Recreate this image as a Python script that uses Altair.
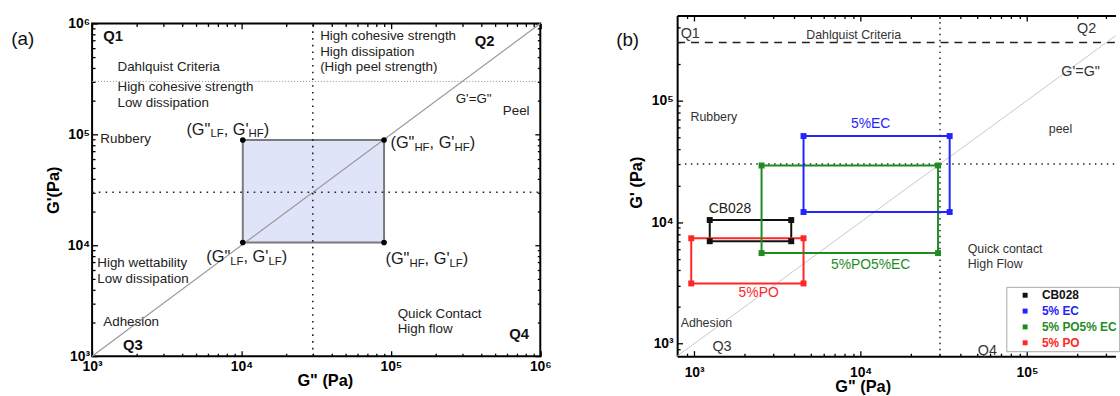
import altair as alt
import pandas as pd

FONT = "Liberation Sans"

# ---------------- panel (a) values ----------------
a_major = [1e3, 1e4, 1e5, 1e6]
a_minor = [2e3, 3e3, 4e3, 5e3, 6e3, 7e3, 8e3, 9e3,
           2e4, 3e4, 4e4, 5e4, 6e4, 7e4, 8e4, 9e4,
           2e5, 3e5, 4e5, 5e5, 6e5, 7e5, 8e5, 9e5]
a_gpp = [1.02e4, 9.0e4]      # G'' LF, HF
a_gp = [1.06e4, 8.9e4]       # G'  LF, HF
a_diag = [1e3, 1e6]
a_cut = 3e4
a_dahl = 3e5

a_body_text = ["Dahlquist Criteria", "High cohesive strength", "Low dissipation", "Rubbery",
               "High wettability", "Low dissipation", "Adhesion",
               "High cohesive strength", "High dissipation", "(High peel strength)",
               "Quick Contact", "High flow"]
a_body_x = [1479, 1479, 1479, 1135, 1084, 1084, 1189, 3.36e4, 3.36e4, 3.36e4, 1.11e5, 1.11e5]
a_body_y = [4.04e5, 2.67e5, 1.92e5, 8.98e4, 6.84e3, 4.92e3, 2.03e3, 7.66e5, 5.5e5, 4.04e5, 2.39e3, 1.75e3]
a_mid_text = ["G'=G\"", "Peel"]
a_mid_x = [3.58e5, 6.9e5]
a_mid_y = [2.09e5, 1.63e5]
a_q_text = ["Q1", "Q2", "Q3", "Q4"]
a_q_x = [1189, 3.64e5, 1611, 6.2e5]
a_q_y = [7.66e5, 6.9e5, 1.26e3, 1.58e3]
a_corner_sub1 = ["LF", "HF", "LF", "HF"]
a_corner_sub2 = ["HF", "HF", "LF", "LF"]
a_corner_x = [4.28e3, 9.93e4, 5.81e3, 9.2e4]
a_corner_y = [1.1e5, 8.26e4, 7.75e3, 7.43e3]

# ---------------- panel (b) values ----------------
b_major = [1e3, 1e4, 1e5]
b_minor = [9e2, 2e3, 3e3, 4e3, 5e3, 6e3, 7e3, 8e3, 9e3,
           2e4, 3e4, 4e4, 5e4, 6e4, 7e4, 8e4, 9e4, 2e5, 3e5, 4e5]
b_xdom = [790, 3.4e5]
b_ydom = [790, 5e5]
b_cut = 3e4
b_dahl = 3e5
series = ["CB028", "5% PO", "5% PO5% EC", "5% EC"]
box_x1 = [1.24e3, 9.6e2, 2.54e3, 4.54e3]
box_x2 = [3.83e3, 4.54e3, 2.92e4, 3.43e4]
box_y1 = [6.96e3, 3.13e3, 5.56e3, 1.21e4]
box_y2 = [1.04e4, 7.36e3, 2.92e4, 5.1e4]
legend_order = ["CB028", "5% EC", "5% PO5% EC", "5% PO"]
legend_colors = ["#111111", "#2424ff", "#1f8c1f", "#ff2626"]

b_left_text = ["Rubbery", "Quick contact", "High Flow", "Adhesion"]
b_left_x = [951, 4.4e4, 4.4e4, 829]
b_left_y = [7.3e4, 6.03e3, 4.55e3, 1.48e3]
b_mid_text = ["Dahlquist Criteria", "peel"]
b_mid_x = [9.08e3, 1.59e5]
b_mid_y = [3.46e5, 5.8e4]
b_q_text = ["Q1", "Q2", "G'=G\"", "Q3", "Q4"]
b_q_x = [829, 2.28e5, 2.1e5, 1.47e3, 5.78e4]
b_q_y = [3.52e5, 3.87e5, 1.7e5, 942, 874]
b_q_align = ["left", "center", "center", "center", "center"]
b_series_text = ["CB028", "5%EC", "5%PO5%EC", "5%PO"]
b_series_x = [1.64e3, 1.15e4, 1.15e4, 2.44e3]
b_series_y = [1.28e4, 6.4e4, 4.47e3, 2.6e3]
b_series_color = ["#222222", "#2424ff", "#1f8c1f", "#ff2626"]

# ---------------- helpers ----------------
SUP_ARR = "['\u2070','\u00b9','\u00b2','\u00b3','\u2074','\u2075','\u2076']"
IS_MAJOR = "abs(log(datum.value)/LN10 - round(log(datum.value)/LN10)) < 0.001"
MAJ, MIN = 5.5, 3.0
TICK_SIZE = alt.ExprRef(f"{IS_MAJOR} ? {-MAJ} : {-MIN}")   # negative -> inward ticks
dummy = pd.DataFrame({"x": [1e4], "y": [1e4]})


def enc_xy(xs, ys):
    return dict(x=alt.X("x:Q", scale=xs, axis=None), y=alt.Y("y:Q", scale=ys, axis=None))


def axis_layer(xs, ys, xaxis, yaxis):
    return alt.Chart(dummy).mark_point(opacity=0).encode(
        x=alt.X("x:Q", scale=xs, axis=xaxis), y=alt.Y("y:Q", scale=ys, axis=yaxis))


def label_axis(orient, values, title, tx, ty, pad, angle, domain=False):
    return alt.Axis(orient=orient, values=values,
                    labelExpr=f"{IS_MAJOR} ? ('10' + {SUP_ARR}[round(log(datum.value)/LN10)]) : ''",
                    ticks=True, tickColor="black", tickWidth=1.3, tickSize=TICK_SIZE,
                    domain=domain, domainColor="black", domainWidth=2,
                    grid=False, labelFont=FONT, labelFontSize=14,
                    labelFontWeight="bold", labelColor="black", labelPadding=pad + MAJ,
                    labelOverlap=False, labelFlush=False,
                    title=title, titleX=tx, titleY=ty, titleFont=FONT, titleFontSize=16.5,
                    titleFontWeight="bold", titleColor="black", titleAlign="center",
                    titleBaseline="middle", titleAngle=angle)


def tick_axis(orient, values, domain=False):
    return alt.Axis(orient=orient, values=values, labels=False, grid=False, title=None,
                    ticks=True, tickColor="black", tickWidth=1.3, tickSize=TICK_SIZE,
                    domain=domain, domainColor="black", domainWidth=2)


def text_layer(xs, ys, txt, xv, yv, **kw):
    df = pd.DataFrame({"x": xv, "y": yv, "t": txt})
    return alt.Chart(df).mark_text(font=FONT, baseline="middle", **kw).encode(
        text="t:N", **enc_xy(xs, ys))


AW = {"(": 333, ")": 333, "G": 778, '"': 355, "'": 191, ",": 278, " ": 278,
      "L": 556, "F": 611, "H": 722}


def tw(s, size):
    return sum(AW[c] for c in s) * size / 1000.0


def sub_label(xs, ys, x, y, s1, s2, M=16.5, S=11.5, dy=4.5):
    parts = [('(G"', M, 0), (s1, S, dy), (", G'", M, 0), (s2, S, dy), (")", M, 0)]
    layers = []
    dx = 0.0
    df = pd.DataFrame({"x": [x], "y": [y]})
    for txt, size, ddy in parts:
        layers.append(alt.Chart(df).mark_text(
            font=FONT, fontSize=size, align="left", baseline="middle", dx=dx, dy=ddy,
            color="#1a1a1a", text=txt).encode(**enc_xy(xs, ys)))
        dx += tw(txt, size)
    return layers


# ---------------- panel (a) ----------------
AW_, AH_ = 452.6, 336
xa = alt.Scale(type="log", domain=[1e3, 1e6], nice=False)
ya = alt.Scale(type="log", domain=[1e3, 1e6], nice=False)

a_rect = alt.Chart(pd.DataFrame({"x": [a_gpp[0]], "x2": [a_gpp[1]],
                                 "y": [a_gp[0]], "y2": [a_gp[1]]})).mark_rect(
    fill="#dfe4f8", stroke="#7a7a7a", strokeWidth=2).encode(
    x2="x2:Q", y2="y2:Q", **enc_xy(xa, ya))
a_diag_l = alt.Chart(pd.DataFrame({"x": a_diag, "y": a_diag})).mark_line(
    color="#9a9a9a", strokeWidth=1.2).encode(**enc_xy(xa, ya))
a_vline = alt.Chart(pd.DataFrame({"x": [a_cut], "y": [1e3], "y2": [1e6]})).mark_rule(
    color="#222", strokeWidth=1.6, strokeDash=[1.6, 5.2]).encode(y2="y2:Q", **enc_xy(xa, ya))
a_hline = alt.Chart(pd.DataFrame({"x": [1e3], "x2": [1e6], "y": [a_cut]})).mark_rule(
    color="#222", strokeWidth=1.6, strokeDash=[1.6, 5.2]).encode(x2="x2:Q", **enc_xy(xa, ya))
a_dline = alt.Chart(pd.DataFrame({"x": [1e3], "x2": [1e6], "y": [a_dahl]})).mark_rule(
    color="#8a8a8a", strokeWidth=1, strokeDash=[1, 2]).encode(x2="x2:Q", **enc_xy(xa, ya))
a_pts = alt.Chart(pd.DataFrame({"x": [a_gpp[0], a_gpp[1], a_gpp[0], a_gpp[1]],
                                "y": [a_gp[1], a_gp[1], a_gp[0], a_gp[0]]})).mark_circle(
    size=32, color="black", opacity=1).encode(**enc_xy(xa, ya))

a_layers = [a_rect, a_diag_l, a_vline, a_hline, a_dline, a_pts,
            text_layer(xa, ya, a_body_text, a_body_x, a_body_y, fontSize=13.5, align="left", color="#222"),
            text_layer(xa, ya, a_mid_text, a_mid_x, a_mid_y, fontSize=13.5, align="center", color="#222"),
            text_layer(xa, ya, a_q_text, a_q_x, a_q_y, fontSize=15, fontWeight="bold", align="left", color="#111")]
for i in range(4):
    a_layers += sub_label(xa, ya, a_corner_x[i], a_corner_y[i], a_corner_sub1[i], a_corner_sub2[i])
a_layers.append(alt.Chart(dummy).mark_text(font=FONT, fontSize=19, align="left", baseline="middle",
                                           color="#111", text="(a)").encode(
    x=alt.value(-81.7), y=alt.value(16)))
a_layers += [
    axis_layer(xa, ya, label_axis("bottom", a_major + a_minor, "G\" (Pa)", 235, 25, 4, 0),
               label_axis("left", a_major + a_minor, "G'(Pa)", -38.7, 168, 2.5, 270)),
    axis_layer(xa, ya, tick_axis("top", a_major + a_minor), tick_axis("right", a_major + a_minor)),
]
pa = alt.layer(*a_layers).resolve_axis(x="independent", y="independent").properties(
    width=AW_, height=AH_)

spacer = alt.Chart(dummy).mark_point(opacity=0).encode(
    x=alt.value(0), y=alt.value(0)).properties(
    width=AW_, height=7.3, view=alt.ViewBackground(stroke=None))

# ---------------- panel (b) ----------------
xb = alt.Scale(type="log", domain=b_xdom, nice=False)
yb = alt.Scale(type="log", domain=b_ydom, nice=False)
BW_, BH_ = 442.6, 344
cs = alt.Scale(domain=legend_order, range=legend_colors)

b_dline = alt.Chart(pd.DataFrame({"x": [b_xdom[0]], "x2": [b_xdom[1]], "y": [b_dahl]})).mark_rule(
    color="#222", strokeWidth=1.5, strokeDash=[8, 6]).encode(x2="x2:Q", **enc_xy(xb, yb))
b_vline = alt.Chart(pd.DataFrame({"x": [b_cut], "y": [b_ydom[0]], "y2": [b_ydom[1]]})).mark_rule(
    color="#222", strokeWidth=1.5, strokeDash=[1.5, 4.5]).encode(y2="y2:Q", **enc_xy(xb, yb))
b_hline = alt.Chart(pd.DataFrame({"x": [880], "x2": [b_xdom[1]], "y": [b_cut]})).mark_rule(
    color="#222", strokeWidth=1.5, strokeDash=[1.5, 4.5]).encode(x2="x2:Q", **enc_xy(xb, yb))
b_diag = alt.Chart(pd.DataFrame({"x": [790, 3.4e5], "y": [790, 3.4e5]})).mark_line(
    color="#c8c8c8", strokeWidth=1).encode(**enc_xy(xb, yb))
boxes_df = pd.DataFrame({"s": series, "x": box_x1, "x2": box_x2, "y": box_y1, "y2": box_y2})
b_boxes = alt.Chart(boxes_df).mark_rect(filled=False, strokeWidth=2).encode(
    x2="x2:Q", y2="y2:Q", color=alt.Color("s:N", scale=cs), **enc_xy(xb, yb))
corner_rows = []
for s, x1, x2, y1, y2 in zip(series, box_x1, box_x2, box_y1, box_y2):
    corner_rows += [(s, x1, y1), (s, x2, y1), (s, x1, y2), (s, x2, y2)]
corners_df = pd.DataFrame(corner_rows, columns=["s", "x", "y"])
lab_expr = " : ".join(f"datum.value == '{n}' ? '{c}'" for n, c in zip(legend_order, legend_colors)) + " : 'black'"
b_corners = alt.Chart(corners_df).mark_square(size=36, opacity=1).encode(
    color=alt.Color("s:N", scale=cs, sort=legend_order, legend=alt.Legend(
        title=None, orient="none", legendX=332.4, legendY=274, direction="vertical",
        symbolType="square", symbolSize=25, symbolStrokeWidth=0,
        labelFont=FONT, labelFontSize=12, labelFontWeight="bold",
        labelColor=alt.ExprRef(lab_expr),
        padding=2.5, rowPadding=4,
        symbolOffset=10.5, labelOffset=11, strokeColor="#a8a8a8", fillColor="white")),
    **enc_xy(xb, yb))

b_layers = [b_dline, b_vline, b_hline, b_diag, b_boxes, b_corners,
            text_layer(xb, yb, b_left_text, b_left_x, b_left_y, fontSize=12.5, align="left", color="#333"),
            text_layer(xb, yb, b_mid_text, b_mid_x, b_mid_y, fontSize=12.5, align="center", color="#333")]
for t, x, y, al in zip(b_q_text, b_q_x, b_q_y, b_q_align):
    b_layers.append(text_layer(xb, yb, [t], [x], [y], fontSize=14.5, align=al, color="#333"))
for t, x, y, c in zip(b_series_text, b_series_x, b_series_y, b_series_color):
    b_layers.append(text_layer(xb, yb, [t], [x], [y], fontSize=14, align="center", color=c))
b_layers.append(alt.Chart(dummy).mark_text(font=FONT, fontSize=19, align="left", baseline="middle",
                                           color="#111", text="(b)").encode(
    x=alt.value(-61.6), y=alt.value(25)))
b_layers += [
    axis_layer(xb, yb, label_axis("bottom", b_major + b_minor, "G\" (Pa)", 187.4, 31.2, 10, 0, domain=True),
               label_axis("left", b_major + b_minor, "G' (Pa)", -41.3, 168.3, 4, 270, domain=True)),
    axis_layer(xb, yb, tick_axis("top", b_major + b_minor, domain=True), None),
]
pb = alt.layer(*b_layers).resolve_axis(x="independent", y="independent").properties(
    width=BW_, height=BH_, view=alt.ViewBackground(stroke=None))

left = alt.vconcat(spacer, pa, spacing=0, bounds="flush")
chart = alt.hconcat(left, pb, spacing=63.8).resolve_scale(
    color="independent").properties(
    padding={"left": 10, "top": 10.7, "right": 0, "bottom": 0},
    background="white").configure_view(stroke="black", strokeWidth=2)

chart.save("out.html", embed_options={"renderer": "svg", "actions": False})
